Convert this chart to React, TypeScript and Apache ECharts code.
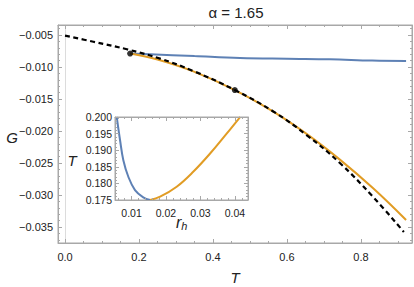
import React, { useEffect, useRef } from "react";
import * as echarts from "echarts";

const titleText = "α = 1.65";

// main plot data (T, G)
const dashedT = [0, 0.0765, 0.167, 0.257, 0.347, 0.459, 0.563, 0.653, 0.743, 0.833, 0.916];
const dashedG = [-0.00511, -0.00605, -0.00723, -0.00869, -0.01063, -0.0136, -0.01695, -0.02063, -0.025, -0.03031, -0.03578];
const orangeT = [0.176, 0.25, 0.347, 0.459, 0.563, 0.653, 0.743, 0.833, 0.922];
const orangeG = [-0.0079, -0.00883, -0.01069, -0.0136, -0.01697, -0.02045, -0.02447, -0.02895, -0.0339];
const blueT = [0.176, 0.23, 0.35, 0.473, 0.6, 0.716, 0.83, 0.922];
const blueG = [-0.0079, -0.008, -0.0083, -0.0086, -0.00872, -0.0088, -0.009, -0.00906];
const dotT = [0.176, 0.459];
const dotG = [-0.0079, -0.0136];

// inset data (r_h, T)
const insetBlueR = [0.0057, 0.00667, 0.00762, 0.00907, 0.011, 0.0134, 0.0154];
const insetBlueT = [0.2, 0.193, 0.187, 0.182, 0.178, 0.1758, 0.175];
const insetOrangeR = [0.0154, 0.0183, 0.0231, 0.0279, 0.0328, 0.0376, 0.0415];
const insetOrangeT = [0.175, 0.176, 0.179, 0.1835, 0.189, 0.195, 0.2];

// tick labels
const mainXTicks = [0, 0.2, 0.4, 0.6, 0.8];
const mainYTicks = [-0.035, -0.03, -0.025, -0.02, -0.015, -0.01, -0.005];
const insetXTicks = [0.01, 0.02, 0.03, 0.04];
const insetYTicks = [0.175, 0.18, 0.185, 0.19, 0.195, 0.2];

const FONT = "Liberation Sans, Arial, sans-serif";
const FRAME = "#a8a8a8";
const BLUE = "#5E81B5";
const ORANGE = "#E19C24";

function range(a: number, b: number, step: number, skip: number[]) {
  const out: number[] = [];
  const n = Math.round((b - a) / step);
  for (let i = 0; i <= n; i++) {
    const v = +(a + i * step).toFixed(6);
    if (!skip.some((s) => Math.abs(s - v) < step / 10)) out.push(v);
  }
  return out;
}

const mainXMinor = range(0, 0.9, 0.05, mainXTicks);
const mainYMinor = range(-0.037, -0.004, 0.001, mainYTicks);
const insetXMinor = range(0.006, 0.042, 0.002, insetXTicks);
const insetYMinor = range(0.175, 0.2, 0.001, insetYTicks);

const zip = (a: number[], b: number[]) => a.map((v, i) => [v, b[i]]);

function axes(
  dim: "x" | "y",
  gridIndex: number,
  min: number,
  max: number,
  major: number[],
  minor: number[],
  fmt: (v: number) => string,
  margin: number,
  fs: number
) {
  const p1 = dim === "x" ? "bottom" : "left";
  const p2 = dim === "x" ? "top" : "right";
  const base = {
    type: "value",
    gridIndex,
    min,
    max,
    z: 10,
    splitLine: { show: false },
    axisPointer: { show: false },
  };
  const lineOn = { show: true, onZero: false, lineStyle: { color: FRAME, width: 1 } };
  const lineOff = { show: false, onZero: false };
  const majorTick = { show: true, inside: true, length: 4, customValues: major, lineStyle: { color: FRAME, width: 1 } };
  const minorTick = { show: true, inside: true, length: 2, customValues: minor, lineStyle: { color: FRAME, width: 1 } };
  return [
    {
      ...base,
      position: p1,
      axisLine: lineOn,
      axisTick: majorTick,
      axisLabel: { show: true, customValues: major, formatter: fmt, margin, fontSize: fs, color: "#222", fontFamily: FONT },
    },
    { ...base, position: p1, axisLine: lineOff, axisTick: minorTick, axisLabel: { show: false } },
    { ...base, position: p2, axisLine: lineOn, axisTick: majorTick, axisLabel: { show: false } },
    { ...base, position: p2, axisLine: lineOff, axisTick: minorTick, axisLabel: { show: false } },
  ];
}

const fmtSigned = (d: number) => (v: number) => (v < 0 ? "\u2212" : "") + Math.abs(v).toFixed(d);

export default function App() {
  const ref = useRef<HTMLDivElement>(null);
  useEffect(() => {
    if (!ref.current) return;
    const chart = echarts.init(ref.current, null, { renderer: "svg" });
    const lineBase = { type: "line", smooth: 0.4, showSymbol: false };
    const option: any = {
      animation: false,
      backgroundColor: "#fff",
      grid: [
        { left: 58, top: 25, width: 354, height: 218, show: true, borderColor: FRAME, borderWidth: 1, backgroundColor: "transparent", outerBoundsMode: "none" },
        { left: 115, top: 117, width: 133, height: 83, show: true, borderColor: FRAME, borderWidth: 1, backgroundColor: "transparent", outerBoundsMode: "none" },
      ],
      xAxis: [
        ...axes("x", 0, -0.019, 0.938, mainXTicks, mainXMinor, fmtSigned(1), 8, 11),
        ...axes("x", 1, 0.0052, 0.0438, insetXTicks, insetXMinor, fmtSigned(2), 7, 10.5),
      ],
      yAxis: [
        ...axes("y", 0, -0.0375, -0.00344, mainYTicks, mainYMinor, fmtSigned(3), 5, 11),
        ...axes("y", 1, 0.175, 0.2, insetYTicks, insetYMinor, fmtSigned(3), 3, 10.5),
      ],
      series: [
        {
          ...lineBase,
          xAxisIndex: 0,
          yAxisIndex: 0,
          data: zip(blueT, blueG),
          lineStyle: { color: BLUE, width: 2 },
          z: 2,
        },
        {
          ...lineBase,
          xAxisIndex: 0,
          yAxisIndex: 0,
          data: zip(orangeT, orangeG),
          lineStyle: { color: ORANGE, width: 2 },
          z: 2,
        },
        {
          ...lineBase,
          xAxisIndex: 0,
          yAxisIndex: 0,
          data: zip(dashedT, dashedG),
          lineStyle: { color: "#000", width: 2.2, type: [5, 3.5] },
          z: 3,
          markLine: {
            silent: true,
            symbol: "none",
            label: { show: false },
            lineStyle: { color: "#dcdcdc", width: 1, type: "solid" },
            data: [{ xAxis: 0 }],
            z: 1,
          },
        },
        {
          type: "scatter",
          xAxisIndex: 0,
          yAxisIndex: 0,
          data: zip(dotT, dotG),
          symbolSize: 6,
          itemStyle: { color: "#000" },
          z: 4,
        },
        {
          ...lineBase,
          xAxisIndex: 4,
          yAxisIndex: 4,
          data: zip(insetBlueR, insetBlueT),
          lineStyle: { color: BLUE, width: 2 },
          z: 6,
        },
        {
          ...lineBase,
          xAxisIndex: 4,
          yAxisIndex: 4,
          data: zip(insetOrangeR, insetOrangeT),
          lineStyle: { color: ORANGE, width: 2 },
          z: 6,
        },
      ],
      graphic: [
        {
          type: "text",
          x: 236,
          y: 12,
          style: { text: titleText, fontSize: 15, fontFamily: FONT, fill: "#222", textAlign: "center", textVerticalAlign: "middle" },
        },
        {
          type: "text",
          x: 12,
          y: 137,
          style: { text: "G", fontSize: 15, fontStyle: "italic", fontFamily: FONT, fill: "#222", textAlign: "center", textVerticalAlign: "middle" },
        },
        {
          type: "text",
          x: 235,
          y: 277,
          style: { text: "T", fontSize: 15, fontStyle: "italic", fontFamily: FONT, fill: "#222", textAlign: "center", textVerticalAlign: "middle" },
        },
        {
          type: "text",
          x: 72,
          y: 160,
          style: { text: "T", fontSize: 15, fontStyle: "italic", fontFamily: FONT, fill: "#222", textAlign: "center", textVerticalAlign: "middle" },
        },
        {
          type: "text",
          x: 176,
          y: 222,
          style: {
            text: "{r|r}{h|h}",
            fontFamily: FONT,
            fill: "#222",
            textAlign: "left",
            textVerticalAlign: "middle",
            rich: {
              r: { fontSize: 16, fontStyle: "italic", fontFamily: FONT, fill: "#222" },
              h: { fontSize: 11, fontStyle: "italic", fontFamily: FONT, fill: "#222", padding: [8, 0, 0, 0] },
            },
          },
        },
      ],
    };
    chart.setOption(option);
    return () => chart.dispose();
  }, []);
  return <div ref={ref} style={{ width: 414, height: 287, position: "absolute", left: 0, top: 0 }} />;
}
